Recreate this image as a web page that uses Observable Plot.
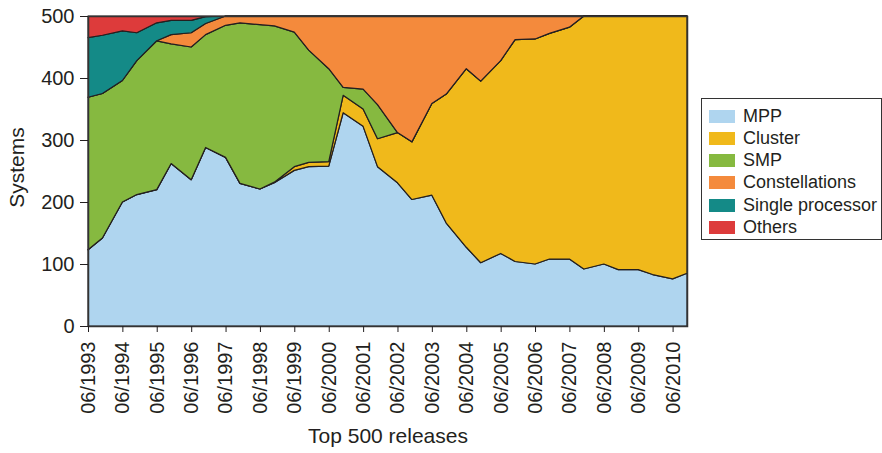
<!DOCTYPE html>
<html>
<head>
<meta charset="utf-8">
<script src="https://cdn.jsdelivr.net/npm/d3@7"></script>
<script src="https://cdn.jsdelivr.net/npm/@observablehq/plot@0.6"></script>
<style>
  body { margin: 0; background: #fff; }
  #wrap { position: relative; width: 882px; height: 453px; font-family: "Liberation Sans", Arial, sans-serif; color: #231f20; }
  #legend { position: absolute; left: 701px; top: 98px; width: 179px; height: 140px; border: 1.5px solid #333; box-sizing: content-box; }
  .row { position: absolute; left: 7px; height: 14px; display: flex; align-items: center; font-size: 18px; white-space: nowrap; }
  .sw { width: 26px; height: 13px; margin-right: 8px; flex: none; }
</style>
</head>
<body>
<div id="wrap"><div id="chart"></div><div id="legend"></div></div>
<script>
const releases = ["06/1993","11/1993","06/1994","11/1994","06/1995","11/1995","06/1996","11/1996","06/1997","11/1997","06/1998","11/1998","06/1999","11/1999","06/2000","11/2000","06/2001","11/2001","06/2002","11/2002","06/2003","11/2003","06/2004","11/2004","06/2005","11/2005","06/2006","11/2006","06/2007","11/2007","06/2008","11/2008","06/2009","11/2009","06/2010","11/2010"];
const tickLabels = ["06/1993","06/1994","06/1995","06/1996","06/1997","06/1998","06/1999","06/2000","06/2001","06/2002","06/2003","06/2004","06/2005","06/2006","06/2007","06/2008","06/2009","06/2010"];
const yTicks = [0, 100, 200, 300, 400, 500];
const archs = ["MPP", "Cluster", "SMP", "Constellations", "Single processor", "Others"];
const colors = ["#afd5ef", "#f0b91b", "#86b940", "#f48a3c", "#148a87", "#dd3b3b"];

const mpp = [123,142,200,212,220,262,236,288,272,230,221,231,251,257,258,344,322,257,231,204,211,166,127,102,117,104,100,108,108,92,100,91,91,83,76,85];
const cluster = [0,0,0,0,0,0,0,0,0,0,0,1,6,7,7,28,28,45,81,93,148,208,288,293,311,358,363,364,374,408,400,409,409,417,424,415];
const smp = [246,233,196,216,240,193,214,182,213,259,265,252,217,181,150,13,32,55,0,0,0,0,0,0,0,0,0,0,0,0,0,0,0,0,0,0];
const constellations = [0,0,0,0,0,15,23,18,15,11,14,16,26,55,85,115,118,143,188,203,141,126,85,105,72,38,37,28,18,0,0,0,0,0,0,0];
const singleProc = [96,94,80,45,29,23,20,11,0,0,0,0,0,0,0,0,0,0,0,0,0,0,0,0,0,0,0,0,0,0,0,0,0,0,0,0];
const others = [35,31,24,27,11,7,7,1,0,0,0,0,0,0,0,0,0,0,0,0,0,0,0,0,0,0,0,0,0,0,0,0,0,0,0,0];

const series = [mpp, cluster, smp, constellations, singleProc, others];
const parse = s => { const [m, y] = s.split("/").map(Number); return new Date(Date.UTC(y, m - 1, 1)); };
const table = [];
archs.forEach((a, k) => releases.forEach((r, i) => table.push({date: parse(r), arch: a, value: series[k][i]})));
const tickDates = tickLabels.map(parse);

const chart = Plot.plot({
  width: 882,
  height: 453,
  marginLeft: 88,
  marginRight: 195,
  marginTop: 16,
  marginBottom: 127,
  style: {fontFamily: "'Liberation Sans', Arial, sans-serif", fontSize: "18px", color: "#231f20", background: "#fff"},
  x: {type: "utc", domain: [parse(releases[0]), parse(releases[releases.length - 1])]},
  y: {domain: [0, 500]},
  color: {domain: archs, range: colors},
  marks: [
    Plot.areaY(table, {x: "date", y: "value", fill: "arch", z: "arch", order: archs, stroke: "#231f20", strokeWidth: 1.2, strokeLinejoin: "round"}),
    Plot.frame({stroke: "#333", strokeWidth: 1.5}),
    Plot.axisY({ticks: yTicks, tickSize: 8, tickPadding: 6, fontSize: 20, label: null}),
    Plot.axisX({ticks: tickDates, tickFormat: d3.utcFormat("%m/%Y"), tickRotate: -90, tickSize: 6, tickPadding: 9, fontSize: 20, label: null}),
    Plot.text(["Systems"], {frameAnchor: "left", textAnchor: "middle", dx: -71, dy: -4, rotate: -90, fontSize: 21}),
    Plot.text(["Top 500 releases"], {frameAnchor: "bottom", dy: 116, fontSize: 21})
  ]
});
document.getElementById("chart").appendChild(chart);

const legend = document.getElementById("legend");
archs.forEach((a, k) => {
  const row = document.createElement("div");
  row.className = "row";
  row.style.top = (10 + k * 22.3) + "px";
  const sw = document.createElement("div");
  sw.className = "sw";
  sw.style.background = colors[k];
  const t = document.createElement("span");
  t.textContent = a;
  row.appendChild(sw);
  row.appendChild(t);
  legend.appendChild(row);
});
</script>
</body>
</html>
